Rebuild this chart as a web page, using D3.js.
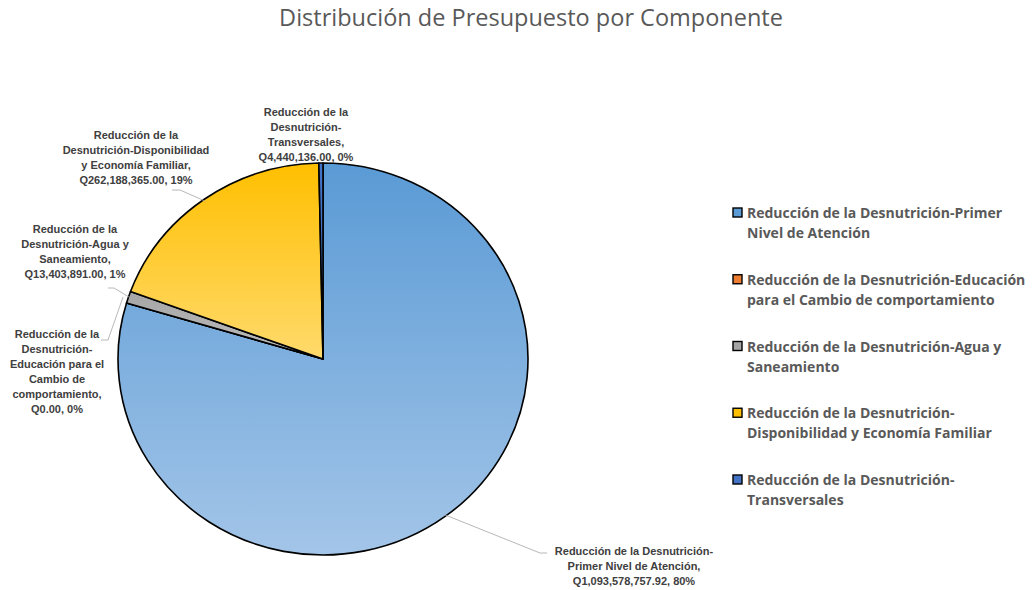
<!DOCTYPE html>
<html>
<head>
    <meta charset="utf-8">
    <title>Distribución de Presupuesto por Componente</title>
    <script src="https://cdn.jsdelivr.net/npm/d3@7"></script>
    <style>
        body { margin: 0; background: #fff; }
    </style>
</head>
<body>
    <svg width="1032" height="590" id="mainsvg"></svg>
    <script>
        // data
        const components = [
            'Reducción de la Desnutrición-Primer Nivel de Atención',
            'Reducción de la Desnutrición-Educación para el Cambio de comportamiento',
            'Reducción de la Desnutrición-Agua y Saneamiento',
            'Reducción de la Desnutrición-Disponibilidad y Economía Familiar',
            'Reducción de la Desnutrición-Transversales'
        ];
        const budget = [1093578757.92, 0, 13403891, 262188365, 4440136];
        const pctLabels = ['80%', '0%', '1%', '19%', '0%'];
        const sliceColors = ['#5B9BD5', '#ED7D31', '#A5A5A5', '#FFC000', '#4472C4'];
        const gradTop = ['#5A9AD5', '#ED7D31', '#A5A5A5', '#FFBF00', '#4472C4'];
        const gradBottom = ['#A3C5E8', '#F4B183', '#BFBFBF', '#FFDA6C', '#4472C4'];

        // data label lines as Excel wrapped them
        const labelLines = [
            ['Reducción de la Desnutrición-', 'Primer Nivel de Atención,', 'Q1,093,578,757.92, 80%'],
            ['Reducción de la', 'Desnutrición-', 'Educación para el', 'Cambio de', 'comportamiento,', 'Q0.00, 0%'],
            ['Reducción de la', 'Desnutrición-Agua y', 'Saneamiento,', 'Q13,403,891.00, 1%'],
            ['Reducción de la', 'Desnutrición-Disponibilidad', 'y Economía Familiar,', 'Q262,188,365.00, 19%'],
            ['Reducción de la', 'Desnutrición-', 'Transversales,', 'Q4,440,136.00, 0%']
        ];
        const legendLines = [
            ['Reducción de la Desnutrición-Primer', 'Nivel de Atención'],
            ['Reducción de la Desnutrición-Educación', 'para el Cambio de comportamiento'],
            ['Reducción de la Desnutrición-Agua y', 'Saneamiento'],
            ['Reducción de la Desnutrición-', 'Disponibilidad y Economía Familiar'],
            ['Reducción de la Desnutrición-', 'Transversales']
        ];

        // label placement (block centre x, first baseline y, leader elbow)
        const labelLayout = [
            { x: 634, y: 555, elbow: [540, 553], end: [547, 553] },
            { x: 57, y: 338, elbow: [108, 340], end: [101, 340], fromIdx: 2 },
            { x: 75, y: 233, elbow: [114, 288], end: [108, 288] },
            { x: 136, y: 139, elbow: [180, 190], end: [172, 190] },
            { x: 306, y: 116, elbow: null, end: null }
        ];

        const svg = d3.select('#mainsvg');
        const width = +svg.attr('width');
        const cx = 323, cy = 359, r = 196, sx = 205 / 196;
        const textColor = '#595959';
        const labelFont = "'Liberation Sans Narrow', 'Liberation Sans', Arial, sans-serif";

        const defs = svg.append('defs');
        components.forEach((c, i) => {
            const lg = defs.append('linearGradient').attr('id', 'grad' + i)
                .attr('x1', 0).attr('y1', 0).attr('x2', 0).attr('y2', 1);
            lg.append('stop').attr('offset', '0%').attr('stop-color', gradTop[i]);
            lg.append('stop').attr('offset', '100%').attr('stop-color', gradBottom[i]);
        });

        // title
        svg.append('text')
            .attr('x', 531).attr('y', 26)
            .attr('text-anchor', 'middle')
            .attr('font-family', "'Open Sans', sans-serif")
            .attr('font-size', 23.5)
            .attr('fill', textColor)
            .text('Distribución de Presupuesto por Componente');

        const pieData = d3.pie().sort(null).value(d => d)(budget);
        const arc = d3.arc().innerRadius(0).outerRadius(r);

        const pieG = svg.append('g')
            .attr('transform', `translate(${cx},${cy}) scale(${sx},1)`);
        pieG.selectAll('path.slice').data(pieData).join('path')
            .attr('class', 'slice')
            .attr('d', arc)
            .attr('fill', (d, i) => `url(#grad${i})`)
            .attr('stroke', '#000')
            .attr('stroke-width', 1.6)
            .attr('vector-effect', 'non-scaling-stroke')
            .attr('stroke-linejoin', 'round');

        // edge point of a slice, in page coordinates
        const edgePoint = (d, k) => {
            const a = (d.startAngle + d.endAngle) / 2;
            return [cx + Math.sin(a) * r * sx * k, cy - Math.cos(a) * r * k];
        };

        // leader lines
        const lineG = svg.append('g');
        pieData.forEach((d, i) => {
            const lay = labelLayout[i];
            if (!lay.elbow) return;
            const src = lay.fromIdx !== undefined ? pieData[lay.fromIdx] : d;
            const p0 = i === 1 ? [cx - r * sx * 0.995 + 4, 297] : edgePoint(src, 0.99);
            lineG.append('polyline')
                .attr('points', [p0, lay.elbow, lay.end].map(p => p.join(',')).join(' '))
                .attr('fill', 'none')
                .attr('stroke', '#A6A6A6')
                .attr('stroke-width', 0.8);
        });

        // data labels
        const lblG = svg.append('g');
        labelLines.forEach((lines, i) => {
            const t = lblG.append('text')
                .attr('text-anchor', 'middle')
                .attr('font-family', labelFont)
                .attr('font-weight', 'bold')
                .attr('font-size', 11)
                .attr('fill', '#404040');
            lines.forEach((ln, j) => {
                t.append('tspan')
                    .attr('x', labelLayout[i].x)
                    .attr('y', labelLayout[i].y + j * 15)
                    .text(ln);
            });
        });

        // legend
        const legY = d3.scalePoint().domain(d3.range(components.length)).range([218, 485]);
        const legG = svg.append('g');
        const item = legG.selectAll('g.item').data(components).join('g')
            .attr('class', 'item')
            .attr('transform', (d, i) => `translate(733,${legY(i)})`);
        item.append('rect')
            .attr('x', 0).attr('y', -10)
            .attr('width', 9).attr('height', 9)
            .attr('fill', (d, i) => sliceColors[i])
            .attr('stroke', '#000')
            .attr('stroke-width', 1.4);
        item.append('text')
            .attr('font-family', "'Open Sans', sans-serif")
            .attr('font-weight', 'bold')
            .attr('font-size', 14)
            .attr('fill', textColor)
            .selectAll('tspan').data((d, i) => legendLines[i]).join('tspan')
            .attr('x', 14)
            .attr('y', (d, j) => j * 20)
            .text(d => d);
    </script>
</body>
</html>
